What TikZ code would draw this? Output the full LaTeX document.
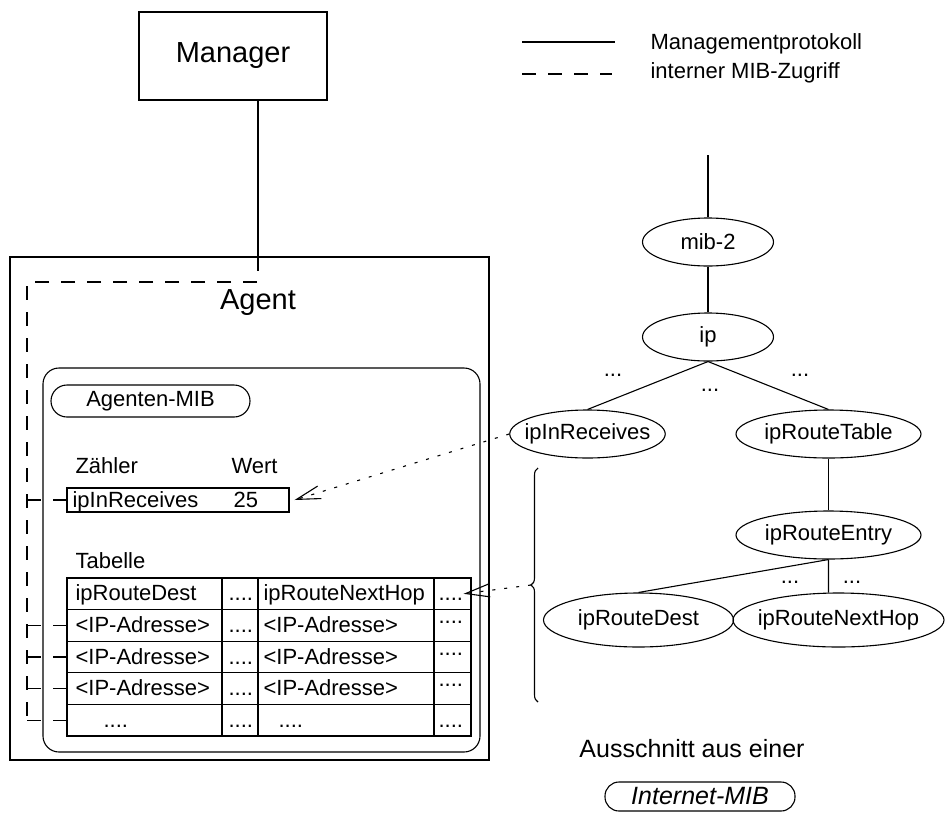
\documentclass[tikz,border=0pt]{standalone}
\usepackage{fontspec}
\setmainfont{Liberation Sans}
\usetikzlibrary{shapes.geometric,arrows.meta,decorations.pathreplacing}

\begin{document}
\begin{tikzpicture}[x=1pt,y=-1pt,line width=1.1pt,
        font=\fontsize{22}{26}\selectfont,
        every node/.style={inner sep=0pt},
        bigtxt/.style={font=\fontsize{29}{34}\selectfont},
        txt/.style={anchor=base west},
        box/.style={draw,rectangle},
        pill/.style={draw,rectangle,rounded corners=16pt,minimum height=32pt},
        cellrow/.style={draw,rectangle,minimum width=404pt,minimum height=31.6pt},
        mib/.style={draw,ellipse,inner xsep=-8pt,inner ysep=0pt,minimum height=48pt},
        mibaccess/.style={dash pattern=on 14pt off 12pt},
        lookup/.style={dash pattern=on 3pt off 9pt,-{Straight Barb[length=24pt,width=13pt]}},
        parent anchor=south, child anchor=north,
        every child node/.style={mib}]
    \useasboundingbox (0,0) rectangle (950,812);

    % legend
    \coordinate (lgA) at (522,42);
    \coordinate (lgB) at (615,42);
    \coordinate (lgC) at (522,74);
    \coordinate (lgD) at (612,74);
    \draw (lgA) -- (lgB);
    \draw[mibaccess] (lgC) -- (lgD);
    \node[txt] (proto) at (650,49) {Managementprotokoll};
    \node[txt] (intern) at (650,78) {interner MIB-Zugriff};

    % manager and agent
    \node[box,bigtxt,minimum width=188pt,minimum height=88pt] (manager) at (233,56) {Manager};
    \node[box,minimum width=479pt,minimum height=503pt] (agent) at (249.5,508.5) {};
    \node[bigtxt] (agentlabel) at (258,303) {Agent};
    \node[draw,rectangle,rounded corners=16pt,minimum width=437pt,minimum height=384pt] (mibbox) at (261.5,560) {};
    \node[pill,minimum width=199pt] (agentmib) at (150.5,401) {Agenten-MIB};

    \coordinate (access) at (258,257);
    \coordinate (corner) at (27,282);
    \coordinate (bus) at (27,720);
    \draw (manager.south -| access) -- (access);
    \draw[mibaccess] (access) |- (corner) -- (bus);

    % counter
    \node[txt] (zaehler) at (75,473) {Zähler};
    \node[txt] (wert) at (231,473) {Wert};
    \node[box,minimum width=222pt,minimum height=24pt] (ctr) at (178,500) {};
    \node[txt] (ctrname) at (72,507) {ipInReceives};
    \node[txt] (ctrval) at (233,507) {25};

    % table
    \node[txt] (tabelle) at (75,568) {Tabelle};
    \foreach \i in {1,...,5}
        \node[cellrow] (row\i) at (269,562.2+31.6*\i) {};
    \foreach \cx in {222,258,434}
        \draw (\cx,578) -- (\cx,736);
    \node[txt] (hd1) at (75,600.8) {ipRouteDest};
    \node[txt] (hd2) at (228,600.8) {....};
    \node[txt] (hd3) at (263,600.8) {ipRouteNextHop};
    \node[txt] (hd4) at (438,600.8) {....};
    \foreach \ry in {632.4,664,695.6} {
        \node[txt] at (75,\ry) {\textless IP-Adresse\textgreater};
        \node[txt] at (228,\ry) {....};
        \node[txt] at (263,\ry) {\textless IP-Adresse\textgreater};
        \node[txt] at (438,\ry-9) {....};
    }
    \node[txt] at (103,727) {....};
    \node[txt] at (228,727) {....};
    \node[txt] at (278,727) {....};
    \node[txt] at (438,727) {....};

    \draw[mibaccess] (ctr.west -| bus) -- (ctr.west);
    \foreach \i in {2,...,5}
        \draw[mibaccess] (row\i.west -| bus) -- (row\i.west);

    % MIB tree
    \tikzstyle{level 1}=[level distance=95pt]
    \tikzstyle{level 2}=[level distance=97pt,sibling distance=241pt]
    \tikzstyle{level 3}=[level distance=101pt]
    \tikzstyle{level 4}=[level distance=85pt,sibling distance=200pt]
    \coordinate (mibroot) at (708,155);
    \node[mib,minimum width=131pt] (mibtwo) at (708,242) {mib-2}
        child {node[minimum width=131pt] (ip) {ip}
            child {node[minimum width=155pt] (inrec) {ipInReceives}
            }
            child {node[minimum width=185pt] (rtable) {ipRouteTable}
                child {node[minimum width=185pt] (rentry) {ipRouteEntry}
                    child {node[xshift=10pt,minimum width=190pt,minimum height=54pt] (rdest) {ipRouteDest}
                    }
                    child[child anchor=110] {node[xshift=10pt,minimum width=211pt,minimum height=54pt] (rnext) {ipRouteNextHop}
                    }
                    child[missing] {}
                }
            }
        };
    \draw (mibroot) -- (mibtwo.north);
    \node (ipdotsl) at (613,375) {...};
    \node (ipdotsm) at (710,390) {...};
    \node (ipdotsr) at (800,375) {...};
    \node (endotsl) at (790,582) {...};
    \node (endotsr) at (852,582) {...};

    % brace and lookups
    \coordinate (brtop) at (538,468);
    \coordinate (brbot) at (538,702);
    \coordinate (bracetip) at (531,585);
    \draw[decorate,decoration={brace,amplitude=7pt}] (brbot) -- (brtop);
    \draw[lookup] (inrec.west) -- ([xshift=5pt]ctr.east);
    \draw[lookup] (bracetip) -- ([xshift=-8pt]row1.east);

    \node[font=\fontsize{25}{30}\selectfont] (ausschnitt) at (692,749) {Ausschnitt aus einer};
    \node[draw,rectangle,rounded corners=14pt,minimum width=190pt,minimum height=29pt,
        font=\fontsize{25}{30}\selectfont\itshape] (inetmib) at (700,796.5) {Internet-MIB};
\end{tikzpicture}
\end{document}
